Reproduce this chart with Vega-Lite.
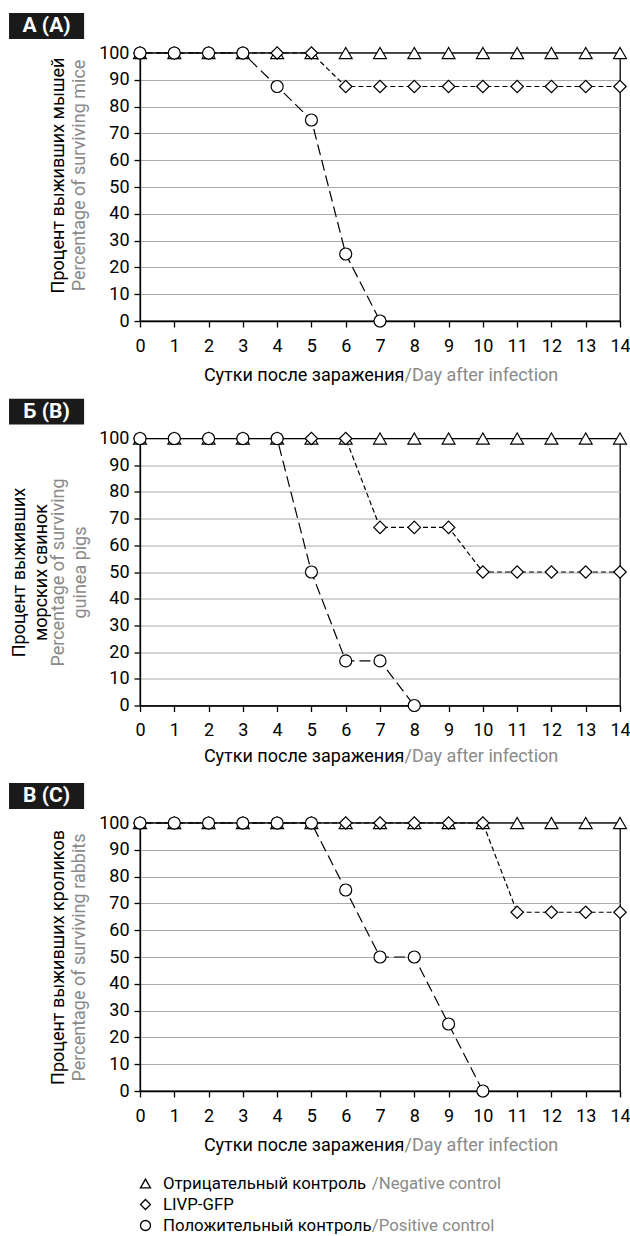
{
  "$schema": "https://vega.github.io/schema/vega-lite/v6.json",
  "padding": {"left": 8, "top": 12, "right": 0, "bottom": 0},
  "autosize": {"type": "pad"},
  "config": {
    "font": "Roboto",
    "view": {"stroke": "black", "strokeWidth": 1.3},
    "axis": {
      "labelFont": "Roboto", "titleFont": "Roboto", "labelFontSize": 18, "titleFontSize": 18,
      "titleFontWeight": "normal", "labelColor": "black", "titleColor": "black",
      "domainColor": "black", "domainWidth": 1.3, "tickColor": "black", "tickWidth": 1.3, "tickSize": 6,
      "gridColor": "#a9a9a9", "gridWidth": 1.2, "labelFlush": false, "labelOverlap": false, "titleLineHeight": 22
    }
  },
  "datasets": {
    "surv": [
      {"p":"A","s":"neg","d":0,"v":100},{"p":"A","s":"neg","d":1,"v":100},{"p":"A","s":"neg","d":2,"v":100},{"p":"A","s":"neg","d":3,"v":100},{"p":"A","s":"neg","d":4,"v":100},{"p":"A","s":"neg","d":5,"v":100},{"p":"A","s":"neg","d":6,"v":100},{"p":"A","s":"neg","d":7,"v":100},{"p":"A","s":"neg","d":8,"v":100},{"p":"A","s":"neg","d":9,"v":100},{"p":"A","s":"neg","d":10,"v":100},{"p":"A","s":"neg","d":11,"v":100},{"p":"A","s":"neg","d":12,"v":100},{"p":"A","s":"neg","d":13,"v":100},{"p":"A","s":"neg","d":14,"v":100},
      {"p":"A","s":"livp","d":0,"v":100},{"p":"A","s":"livp","d":1,"v":100},{"p":"A","s":"livp","d":2,"v":100},{"p":"A","s":"livp","d":3,"v":100},{"p":"A","s":"livp","d":4,"v":100},{"p":"A","s":"livp","d":5,"v":100},{"p":"A","s":"livp","d":6,"v":87.5},{"p":"A","s":"livp","d":7,"v":87.5},{"p":"A","s":"livp","d":8,"v":87.5},{"p":"A","s":"livp","d":9,"v":87.5},{"p":"A","s":"livp","d":10,"v":87.5},{"p":"A","s":"livp","d":11,"v":87.5},{"p":"A","s":"livp","d":12,"v":87.5},{"p":"A","s":"livp","d":13,"v":87.5},{"p":"A","s":"livp","d":14,"v":87.5},
      {"p":"A","s":"pos","d":0,"v":100},{"p":"A","s":"pos","d":1,"v":100},{"p":"A","s":"pos","d":2,"v":100},{"p":"A","s":"pos","d":3,"v":100},{"p":"A","s":"pos","d":4,"v":87.5},{"p":"A","s":"pos","d":5,"v":75},{"p":"A","s":"pos","d":6,"v":25},{"p":"A","s":"pos","d":7,"v":0},
      {"p":"B","s":"neg","d":0,"v":100},{"p":"B","s":"neg","d":1,"v":100},{"p":"B","s":"neg","d":2,"v":100},{"p":"B","s":"neg","d":3,"v":100},{"p":"B","s":"neg","d":4,"v":100},{"p":"B","s":"neg","d":5,"v":100},{"p":"B","s":"neg","d":6,"v":100},{"p":"B","s":"neg","d":7,"v":100},{"p":"B","s":"neg","d":8,"v":100},{"p":"B","s":"neg","d":9,"v":100},{"p":"B","s":"neg","d":10,"v":100},{"p":"B","s":"neg","d":11,"v":100},{"p":"B","s":"neg","d":12,"v":100},{"p":"B","s":"neg","d":13,"v":100},{"p":"B","s":"neg","d":14,"v":100},
      {"p":"B","s":"livp","d":0,"v":100},{"p":"B","s":"livp","d":1,"v":100},{"p":"B","s":"livp","d":2,"v":100},{"p":"B","s":"livp","d":3,"v":100},{"p":"B","s":"livp","d":4,"v":100},{"p":"B","s":"livp","d":5,"v":100},{"p":"B","s":"livp","d":6,"v":100},{"p":"B","s":"livp","d":7,"v":66.7},{"p":"B","s":"livp","d":8,"v":66.7},{"p":"B","s":"livp","d":9,"v":66.7},{"p":"B","s":"livp","d":10,"v":50},{"p":"B","s":"livp","d":11,"v":50},{"p":"B","s":"livp","d":12,"v":50},{"p":"B","s":"livp","d":13,"v":50},{"p":"B","s":"livp","d":14,"v":50},
      {"p":"B","s":"pos","d":0,"v":100},{"p":"B","s":"pos","d":1,"v":100},{"p":"B","s":"pos","d":2,"v":100},{"p":"B","s":"pos","d":3,"v":100},{"p":"B","s":"pos","d":4,"v":100},{"p":"B","s":"pos","d":5,"v":50},{"p":"B","s":"pos","d":6,"v":16.7},{"p":"B","s":"pos","d":7,"v":16.7},{"p":"B","s":"pos","d":8,"v":0},
      {"p":"C","s":"neg","d":0,"v":100},{"p":"C","s":"neg","d":1,"v":100},{"p":"C","s":"neg","d":2,"v":100},{"p":"C","s":"neg","d":3,"v":100},{"p":"C","s":"neg","d":4,"v":100},{"p":"C","s":"neg","d":5,"v":100},{"p":"C","s":"neg","d":6,"v":100},{"p":"C","s":"neg","d":7,"v":100},{"p":"C","s":"neg","d":8,"v":100},{"p":"C","s":"neg","d":9,"v":100},{"p":"C","s":"neg","d":10,"v":100},{"p":"C","s":"neg","d":11,"v":100},{"p":"C","s":"neg","d":12,"v":100},{"p":"C","s":"neg","d":13,"v":100},{"p":"C","s":"neg","d":14,"v":100},
      {"p":"C","s":"livp","d":0,"v":100},{"p":"C","s":"livp","d":1,"v":100},{"p":"C","s":"livp","d":2,"v":100},{"p":"C","s":"livp","d":3,"v":100},{"p":"C","s":"livp","d":4,"v":100},{"p":"C","s":"livp","d":5,"v":100},{"p":"C","s":"livp","d":6,"v":100},{"p":"C","s":"livp","d":7,"v":100},{"p":"C","s":"livp","d":8,"v":100},{"p":"C","s":"livp","d":9,"v":100},{"p":"C","s":"livp","d":10,"v":100},{"p":"C","s":"livp","d":11,"v":66.7},{"p":"C","s":"livp","d":12,"v":66.7},{"p":"C","s":"livp","d":13,"v":66.7},{"p":"C","s":"livp","d":14,"v":66.7},
      {"p":"C","s":"pos","d":0,"v":100},{"p":"C","s":"pos","d":1,"v":100},{"p":"C","s":"pos","d":2,"v":100},{"p":"C","s":"pos","d":3,"v":100},{"p":"C","s":"pos","d":4,"v":100},{"p":"C","s":"pos","d":5,"v":100},{"p":"C","s":"pos","d":6,"v":75},{"p":"C","s":"pos","d":7,"v":50},{"p":"C","s":"pos","d":8,"v":50},{"p":"C","s":"pos","d":9,"v":25},{"p":"C","s":"pos","d":10,"v":0}
    ],
    "leg": [
      {"s":"neg","ru":"Отрицательный контроль","en":"/Negative control"},
      {"s":"livp","ru":"LIVP-GFP","en":""},
      {"s":"pos","ru":"Положительный контроль","en":"/Positive control"}
    ]
  },
  "spacing": 18,
  "vconcat": [
    {
      "bounds": "flush",
      "spacing": 117.5,
      "vconcat": [
        {
          "data": {"name": "surv"},
          "transform": [{"filter": "datum.p === 'A'"}],
          "width": 480, "height": 268,
          "layer": [
            {"mark": {"type": "line", "color": "black", "strokeWidth": 1.2},
             "encoding": {
               "x": {"field": "d", "type": "quantitative", "scale": {"domain": [0, 14], "nice": false},
                     "axis": {"orient": "bottom", "values": [0,1,2,3,4,5,6,7,8,9,10,11,12,13,14], "labelPadding": 10, "grid": false,
                              "title": "Сутки после заражения", "titleX": 264, "titleY": 59, "titleAlign": "right", "titleBaseline": "alphabetic"}},
               "y": {"field": "v", "type": "quantitative", "scale": {"domain": [0, 100], "nice": false},
                     "axis": {"orient": "left", "values": [0,10,20,30,40,50,60,70,80,90,100], "labelPadding": 5, "grid": true,
                              "title": "Процент выживших мышей", "titleX": -82, "titleY": 122, "titleAngle": -90, "titleAlign": "center", "titleBaseline": "middle"}},
               "strokeDash": {"field": "s", "type": "nominal", "scale": {"domain": ["neg","livp","pos"], "range": [[1,0],[5,3],[11,5]]}, "legend": null}
             }},
            {"mark": {"type": "point", "filled": true, "fill": "white", "stroke": "black", "strokeWidth": 1.2, "opacity": 1},
             "encoding": {
               "x": {"field": "d", "type": "quantitative", "scale": {"domain": [0, 14], "nice": false},
                     "axis": {"orient": "bottom", "labels": false, "ticks": false, "domain": false, "grid": false,
                              "title": "/Day after infection", "titleColor": "#8a8a8a", "titleX": 264, "titleY": 59, "titleAlign": "left", "titleBaseline": "alphabetic"}},
               "y": {"field": "v", "type": "quantitative", "scale": {"domain": [0, 100], "nice": false},
                     "axis": {"orient": "left", "labels": false, "ticks": false, "domain": false, "grid": false,
                              "title": "Percentage of surviving mice", "titleColor": "#8a8a8a", "titleX": -61, "titleY": 122, "titleAngle": -90, "titleAlign": "center", "titleBaseline": "middle"}},
               "shape": {"field": "s", "type": "nominal", "scale": {"domain": ["neg","livp","pos"], "range": ["triangle-up","diamond","circle"]}, "legend": null},
               "size": {"field": "s", "type": "nominal", "scale": {"domain": ["neg","livp","pos"], "range": [165,144,150]}, "legend": null}
             }},
            {"data": {"values": [{}]},
             "mark": {"type": "rect", "color": "#1a1a1a"},
             "encoding": {
               "x": {"datum": -3.82, "type": "quantitative", "scale": {"domain": [0, 14], "nice": false}, "axis": null},
               "x2": {"datum": -1.63},
               "y": {"datum": 114.9, "type": "quantitative", "scale": {"domain": [0, 100], "nice": false}, "axis": null},
               "y2": {"datum": 105.2}
             }},
            {"data": {"values": [{}]},
             "mark": {"type": "text", "color": "white", "fontWeight": "bold", "fontSize": 21, "align": "center", "baseline": "middle"},
             "encoding": {
               "x": {"datum": -2.725, "type": "quantitative", "scale": {"domain": [0, 14], "nice": false}, "axis": null},
               "y": {"datum": 110.05, "type": "quantitative", "scale": {"domain": [0, 100], "nice": false}, "axis": null},
               "text": {"value": "А (A)"}
             }}
          ],
          "resolve": {"axis": {"x": "independent", "y": "independent"}}
        },
        {
          "data": {"name": "surv"},
          "transform": [{"filter": "datum.p === 'B'"}],
          "width": 480, "height": 267,
          "layer": [
            {"mark": {"type": "line", "color": "black", "strokeWidth": 1.2},
             "encoding": {
               "x": {"field": "d", "type": "quantitative", "scale": {"domain": [0, 14], "nice": false},
                     "axis": {"orient": "bottom", "values": [0,1,2,3,4,5,6,7,8,9,10,11,12,13,14], "labelPadding": 10, "grid": false,
                              "title": "Сутки после заражения", "titleX": 264, "titleY": 56, "titleAlign": "right", "titleBaseline": "alphabetic"}},
               "y": {"field": "v", "type": "quantitative", "scale": {"domain": [0, 100], "nice": false},
                     "axis": {"orient": "left", "values": [0,10,20,30,40,50,60,70,80,90,100], "labelPadding": 5, "grid": true,
                              "title": ["Процент выживших", "морских свинок"], "titleX": -121, "titleY": 133.5, "titleAngle": -90, "titleAlign": "center", "titleBaseline": "middle"}},
               "strokeDash": {"field": "s", "type": "nominal", "scale": {"domain": ["neg","livp","pos"], "range": [[1,0],[5,3],[11,5]]}, "legend": null}
             }},
            {"mark": {"type": "point", "filled": true, "fill": "white", "stroke": "black", "strokeWidth": 1.2, "opacity": 1},
             "encoding": {
               "x": {"field": "d", "type": "quantitative", "scale": {"domain": [0, 14], "nice": false},
                     "axis": {"orient": "bottom", "labels": false, "ticks": false, "domain": false, "grid": false,
                              "title": "/Day after infection", "titleColor": "#8a8a8a", "titleX": 264, "titleY": 56, "titleAlign": "left", "titleBaseline": "alphabetic"}},
               "y": {"field": "v", "type": "quantitative", "scale": {"domain": [0, 100], "nice": false},
                     "axis": {"orient": "left", "labels": false, "ticks": false, "domain": false, "grid": false,
                              "title": ["Percentage of surviving", "guinea pigs"], "titleColor": "#8a8a8a", "titleX": -82, "titleY": 133.5, "titleAngle": -90, "titleAlign": "center", "titleBaseline": "middle"}},
               "shape": {"field": "s", "type": "nominal", "scale": {"domain": ["neg","livp","pos"], "range": ["triangle-up","diamond","circle"]}, "legend": null},
               "size": {"field": "s", "type": "nominal", "scale": {"domain": ["neg","livp","pos"], "range": [165,144,150]}, "legend": null}
             }},
            {"data": {"values": [{}]},
             "mark": {"type": "rect", "color": "#1a1a1a"},
             "encoding": {
               "x": {"datum": -3.82, "type": "quantitative", "scale": {"domain": [0, 14], "nice": false}, "axis": null},
               "x2": {"datum": -1.63},
               "y": {"datum": 114.9, "type": "quantitative", "scale": {"domain": [0, 100], "nice": false}, "axis": null},
               "y2": {"datum": 105.2}
             }},
            {"data": {"values": [{}]},
             "mark": {"type": "text", "color": "white", "fontWeight": "bold", "fontSize": 21, "align": "center", "baseline": "middle"},
             "encoding": {
               "x": {"datum": -2.725, "type": "quantitative", "scale": {"domain": [0, 14], "nice": false}, "axis": null},
               "y": {"datum": 110.05, "type": "quantitative", "scale": {"domain": [0, 100], "nice": false}, "axis": null},
               "text": {"value": "Б (B)"}
             }}
          ],
          "resolve": {"axis": {"x": "independent", "y": "independent"}}
        },
        {
          "data": {"name": "surv"},
          "transform": [{"filter": "datum.p === 'C'"}],
          "width": 480, "height": 268,
          "layer": [
            {"mark": {"type": "line", "color": "black", "strokeWidth": 1.2},
             "encoding": {
               "x": {"field": "d", "type": "quantitative", "scale": {"domain": [0, 14], "nice": false},
                     "axis": {"orient": "bottom", "values": [0,1,2,3,4,5,6,7,8,9,10,11,12,13,14], "labelPadding": 10, "grid": false,
                              "title": "Сутки после заражения", "titleX": 264, "titleY": 59, "titleAlign": "right", "titleBaseline": "alphabetic"}},
               "y": {"field": "v", "type": "quantitative", "scale": {"domain": [0, 100], "nice": false},
                     "axis": {"orient": "left", "values": [0,10,20,30,40,50,60,70,80,90,100], "labelPadding": 5, "grid": true,
                              "title": "Процент выживших кроликов", "titleX": -82, "titleY": 134, "titleAngle": -90, "titleAlign": "center", "titleBaseline": "middle"}},
               "strokeDash": {"field": "s", "type": "nominal", "scale": {"domain": ["neg","livp","pos"], "range": [[1,0],[5,3],[11,5]]}, "legend": null}
             }},
            {"mark": {"type": "point", "filled": true, "fill": "white", "stroke": "black", "strokeWidth": 1.2, "opacity": 1},
             "encoding": {
               "x": {"field": "d", "type": "quantitative", "scale": {"domain": [0, 14], "nice": false},
                     "axis": {"orient": "bottom", "labels": false, "ticks": false, "domain": false, "grid": false,
                              "title": "/Day after infection", "titleColor": "#8a8a8a", "titleX": 264, "titleY": 59, "titleAlign": "left", "titleBaseline": "alphabetic"}},
               "y": {"field": "v", "type": "quantitative", "scale": {"domain": [0, 100], "nice": false},
                     "axis": {"orient": "left", "labels": false, "ticks": false, "domain": false, "grid": false,
                              "title": "Percentage of surviving rabbits", "titleColor": "#8a8a8a", "titleX": -61, "titleY": 134, "titleAngle": -90, "titleAlign": "center", "titleBaseline": "middle"}},
               "shape": {"field": "s", "type": "nominal", "scale": {"domain": ["neg","livp","pos"], "range": ["triangle-up","diamond","circle"]}, "legend": null},
               "size": {"field": "s", "type": "nominal", "scale": {"domain": ["neg","livp","pos"], "range": [165,144,150]}, "legend": null}
             }},
            {"data": {"values": [{}]},
             "mark": {"type": "rect", "color": "#1a1a1a"},
             "encoding": {
               "x": {"datum": -3.82, "type": "quantitative", "scale": {"domain": [0, 14], "nice": false}, "axis": null},
               "x2": {"datum": -1.63},
               "y": {"datum": 114.9, "type": "quantitative", "scale": {"domain": [0, 100], "nice": false}, "axis": null},
               "y2": {"datum": 105.2}
             }},
            {"data": {"values": [{}]},
             "mark": {"type": "text", "color": "white", "fontWeight": "bold", "fontSize": 21, "align": "center", "baseline": "middle"},
             "encoding": {
               "x": {"datum": -2.725, "type": "quantitative", "scale": {"domain": [0, 14], "nice": false}, "axis": null},
               "y": {"datum": 110.05, "type": "quantitative", "scale": {"domain": [0, 100], "nice": false}, "axis": null},
               "text": {"value": "В (C)"}
             }}
          ],
          "resolve": {"axis": {"x": "independent", "y": "independent"}}
        }
      ]
    },
    {
      "data": {"name": "leg"},
      "width": 480,
      "height": {"step": 21},
      "view": {"stroke": null},
      "layer": [
        {"mark": {"type": "point", "opacity": 0, "size": 4},
         "encoding": {
           "x": {"datum": -3.8, "type": "quantitative", "scale": {"domain": [0, 14], "nice": false}, "axis": null},
           "y": {"field": "s", "type": "nominal", "scale": {"domain": ["neg","livp","pos"]}, "axis": null}
         }},
        {"mark": {"type": "point", "filled": true, "fill": "white", "stroke": "black", "strokeWidth": 1.3, "size": 100, "opacity": 1},
         "encoding": {
           "x": {"datum": 0.16, "type": "quantitative", "scale": {"domain": [0, 14], "nice": false}, "axis": null},
           "y": {"field": "s", "type": "nominal", "scale": {"domain": ["neg","livp","pos"]}, "axis": null},
           "shape": {"field": "s", "type": "nominal", "scale": {"domain": ["neg","livp","pos"], "range": ["triangle-up","diamond","circle"]}, "legend": null}
         }},
        {"mark": {"type": "text", "align": "left", "baseline": "middle", "fontSize": 16.8, "color": "black", "font": "Roboto"},
         "encoding": {
           "x": {"datum": 0.67, "type": "quantitative", "scale": {"domain": [0, 14], "nice": false}, "axis": null},
           "y": {"field": "s", "type": "nominal", "scale": {"domain": ["neg","livp","pos"]}, "axis": null},
           "text": {"field": "ru"}
         }},
        {"mark": {"type": "text", "align": "left", "baseline": "middle", "fontSize": 16.8, "color": "#8a8a8a", "font": "Roboto"},
         "encoding": {
           "x": {"datum": 6.76, "type": "quantitative", "scale": {"domain": [0, 14], "nice": false}, "axis": null},
           "y": {"field": "s", "type": "nominal", "scale": {"domain": ["neg","livp","pos"]}, "axis": null},
           "text": {"field": "en"}
         }}
      ]
    }
  ]
}
